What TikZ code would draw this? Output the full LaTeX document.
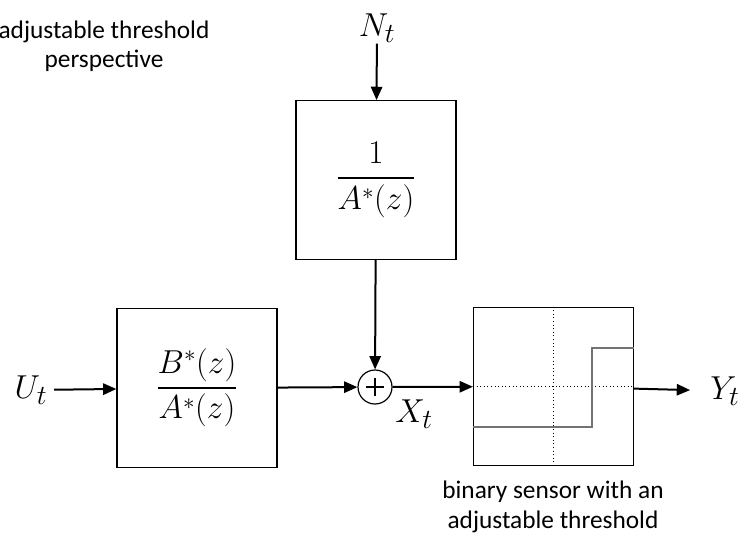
\documentclass[tikz,border=0pt]{standalone}
\usepackage[no-math]{fontspec}
\setmainfont{Carlito}
\usepackage{amsmath}
\usetikzlibrary{positioning,arrows.meta,calc}

\begin{document}
\begin{tikzpicture}[
  x=0.75pt,y=-0.75pt,
  font=\fontsize{19}{22}\selectfont,
  blk/.style={rectangle,draw=black,line width=0.9pt,minimum width=120pt,
              minimum height=119pt,inner sep=0pt,
              font=\fontsize{24}{28}\selectfont},
  sumnode/.style={circle,draw=black,line width=0.9pt,minimum size=25.5pt,inner sep=0pt},
  sig/.style={font=\fontsize{28}{32}\selectfont,inner sep=1pt},
  note/.style={align=center,inner sep=0pt},
  arr/.style={-{Triangle[length=10pt,width=8.5pt]},line width=1.5pt},
  grid/.style={dotted,line width=0.7pt},
  curve/.style={line width=2.2pt,black!55},
]
\useasboundingbox (0,0) rectangle (743,537);

% ---- blocks ----
\node[blk] (den) at (376,180) {$\dfrac{1}{A^{*}(z)}$};
\node[blk] (plant) at (197,388) {$\dfrac{B^{*}(z)}{A^{*}(z)}$};
\node[sumnode] (sum) at (375,387) {};
\node[blk] (sensor) at (553.5,386.5) {};

% ---- signals ----
\node[sig] (noise) at (377,28) {$N_t$};
\node[sig] (in) at (31,390) {$U_t$};
\node[sig] (state) at (414,414) {$X_t$};
\node[sig] (out) at (725,391) {$Y_t$};

% ---- captions ----
\node[note] (persp) at (104,46) {adjustable threshold\\perspective};
\node[note] (sensorlbl) at (553,507) {binary sensor with an\\adjustable threshold};

% ---- sum sign ----
\draw[line width=0.9pt] ($(sum.center)+(-9,0)$) -- ($(sum.center)+(9,0)$)
                        ($(sum.center)+(0,-9)$) -- ($(sum.center)+(0,9)$);

% ---- sensor characteristic ----
\draw[grid] (sensor.north) -- (sensor.south);
\draw[grid] (sensor.west) -- (sensor.east);
\draw[curve] ($(sensor.west)+(0,40.5)$) -- ($(sensor.center)+(38.5,40.5)$)
             -- ($(sensor.center)+(38.5,-38.5)$) -- ($(sensor.east)+(0,-38.5)$);

% ---- connectors ----
\draw[arr] (noise) -- (den);
\draw[arr,shorten <=4pt] (in) -- (plant);
\draw[arr] (plant) -- (sum);
\draw[arr] (den) -- (sum);
\draw[arr] (sum) -- (sensor);
\draw[arr,shorten >=14pt] (sensor) -- (out);
\end{tikzpicture}
\end{document}
